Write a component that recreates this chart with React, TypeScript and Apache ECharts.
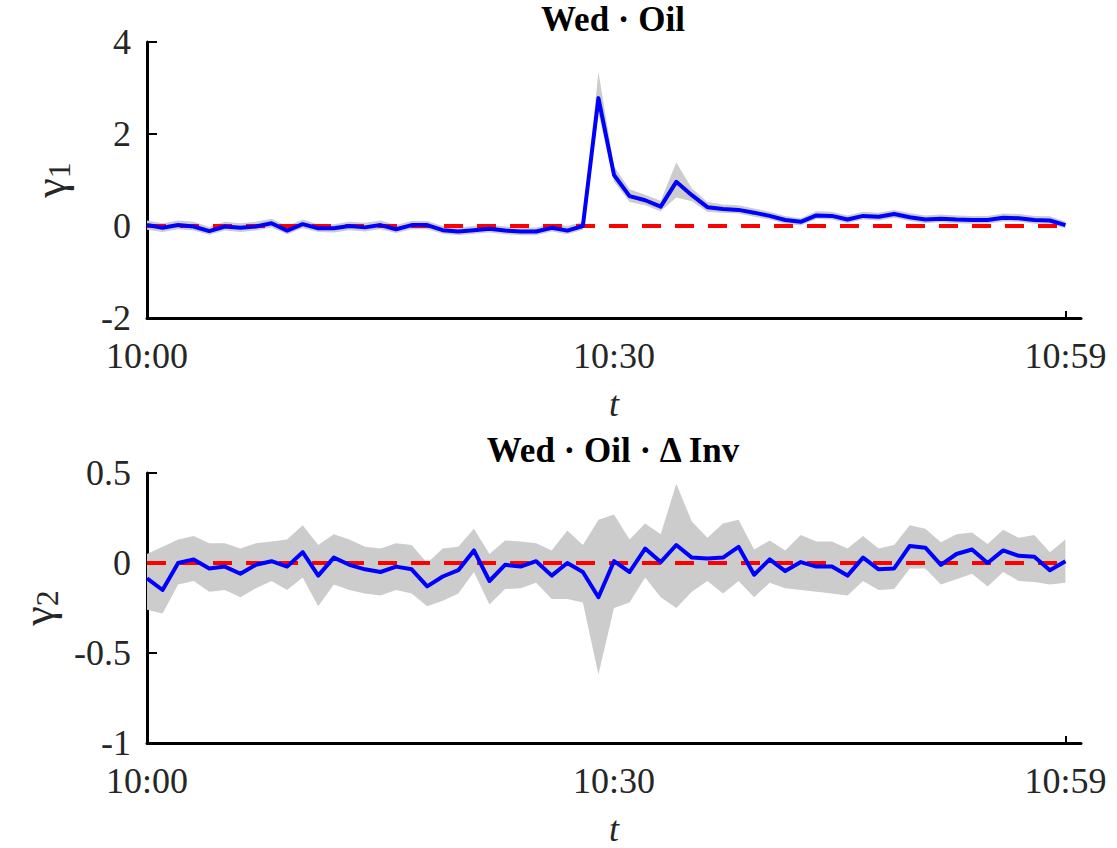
import React, { useEffect, useRef } from "react";
import * as echarts from "echarts";

// minute index 0..59 (10:00 .. 10:59)
const tickValues = [0, 30, 59];
const tickLabels = ["10:00", "10:30", "10:59"];

// gamma_1 (Wed · Oil)
const g1 = [0.02,-0.04,0.02,-0.01,-0.11,-0.01,-0.04,-0.01,0.06,-0.10,0.04,-0.05,-0.05,0.00,-0.03,0.02,-0.07,0.02,0.02,-0.09,
  -0.12,-0.09,-0.06,-0.10,-0.12,-0.12,-0.04,-0.10,0.00,
  2.78,1.11,0.65,0.56,0.42,0.96,0.67,0.41,0.37,0.35,
  0.29,0.22,0.13,0.09,0.23,0.22,0.14,0.22,0.20,0.26,0.19,
  0.14,0.16,0.14,0.13,0.13,0.18,0.17,0.13,0.12,0.02];
const g1Lo = [-0.08,-0.13,-0.07,-0.10,-0.19,-0.10,-0.13,-0.10,-0.03,-0.18,-0.05,-0.13,-0.14,-0.09,-0.12,-0.07,-0.15,-0.07,-0.07,-0.17,
  -0.20,-0.17,-0.14,-0.18,-0.20,-0.20,-0.12,-0.18,-0.08,
  2.45,0.97,0.52,0.45,0.32,0.62,0.54,0.31,0.28,0.27,
  0.20,0.14,0.05,0.01,0.15,0.14,0.06,0.14,0.12,0.18,0.11,
  0.06,0.08,0.06,0.05,0.05,0.10,0.09,0.05,0.04,-0.05];
const g1Hi = [0.12,0.06,0.12,0.09,-0.02,0.09,0.06,0.09,0.16,0.00,0.14,0.04,0.04,0.09,0.07,0.12,0.02,0.11,0.11,0.00,
  -0.03,0.00,0.03,-0.01,-0.03,-0.03,0.05,0.00,0.09,
  3.35,1.30,0.80,0.68,0.55,1.38,0.82,0.52,0.47,0.45,
  0.38,0.31,0.22,0.17,0.32,0.31,0.23,0.31,0.29,0.35,0.28,
  0.23,0.25,0.23,0.22,0.22,0.27,0.26,0.22,0.21,0.10];

// gamma_2 (Wed · Oil · Δ Inv)
const g2 = [-0.086,-0.15,0.00,0.02,-0.03,-0.02,-0.06,-0.01,0.01,-0.02,
  0.06,-0.07,0.03,-0.01,-0.035,-0.05,-0.02,-0.035,-0.13,-0.075,
  -0.04,0.07,-0.10,-0.01,-0.02,0.01,-0.07,0.00,-0.05,-0.19,
  0.01,-0.05,0.08,0.005,0.10,0.03,0.025,0.03,0.09,-0.065,
  0.02,-0.045,0.005,-0.02,-0.02,-0.07,0.03,-0.035,-0.03,0.095,
  0.085,-0.01,0.05,0.075,0.00,0.07,0.04,0.035,-0.04,0.01];
const g2Lo = [-0.26,-0.28,-0.12,-0.10,-0.16,-0.15,-0.19,-0.14,-0.10,-0.15,
  -0.08,-0.24,-0.12,-0.15,-0.17,-0.18,-0.15,-0.17,-0.24,-0.21,
  -0.17,-0.05,-0.23,-0.145,-0.14,-0.11,-0.20,-0.20,-0.22,-0.62,
  -0.25,-0.22,-0.08,-0.19,-0.25,-0.16,-0.10,-0.17,-0.10,-0.19,
  -0.11,-0.14,-0.15,-0.16,-0.17,-0.18,-0.10,-0.15,-0.145,-0.03,
  -0.03,-0.12,-0.09,-0.06,-0.13,-0.05,-0.10,-0.105,-0.12,-0.11];
const g2Hi = [0.05,0.09,0.13,0.15,0.11,0.11,0.08,0.11,0.12,0.13,
  0.21,0.10,0.16,0.13,0.09,0.08,0.11,0.10,0.00,0.08,
  0.09,0.19,0.05,0.125,0.12,0.11,0.07,0.18,0.10,0.24,
  0.27,0.13,0.22,0.16,0.44,0.23,0.14,0.22,0.24,0.075,
  0.125,0.07,0.155,0.12,0.12,0.08,0.15,0.08,0.10,0.21,
  0.19,0.115,0.16,0.17,0.105,0.185,0.14,0.155,0.06,0.13];

const zeroRef = [[0, 0], [59, 0]];

const FONT = "Liberation Serif";
const TXT = "#262626";

function bandSeries(lo: number[], hi: number[], idx: number) {
  return {
    type: "custom", xAxisIndex: idx, yAxisIndex: idx, silent: true, z: 1,
    data: lo.map((v, i) => [i, v, hi[i]]),
    encode: { x: 0, y: [1, 2] },
    renderItem: (params: any, api: any) => {
      if (params.dataIndex !== 0) return null;
      const pts: number[][] = [];
      for (let i = 0; i < hi.length; i++) pts.push(api.coord([i, hi[i]]));
      for (let i = lo.length - 1; i >= 0; i--) pts.push(api.coord([i, lo[i]]));
      return { type: "polygon", shape: { points: pts }, style: { fill: "#cccccc" } };
    },
  };
}

function lineSeries(vals: number[], idx: number) {
  return [
    {
      type: "line", xAxisIndex: idx, yAxisIndex: idx, data: zeroRef, symbol: "none", silent: true,
      lineStyle: { color: "#ff0000", width: 4, type: [19, 14] }, z: 2,
    },
    {
      type: "line", xAxisIndex: idx, yAxisIndex: idx, data: vals.map((v, i) => [i, v]), symbol: "none", silent: true,
      lineStyle: { color: "#0000ff", width: 4, join: "round" }, z: 3,
    },
  ];
}

function xAxis(idx: number) {
  return {
    gridIndex: idx, type: "value", min: 0, max: 60,
    axisLine: { onZero: false, lineStyle: { color: "#000", width: 3 } },
    axisTick: { inside: true, length: 7, customValues: [59], lineStyle: { color: "#000", width: 2 } },
    axisLabel: {
      customValues: tickValues,
      formatter: (v: number) => tickLabels[tickValues.indexOf(v)] ?? "",
      fontSize: 36, lineHeight: 30, fontFamily: FONT, color: TXT, margin: 23,
    },
    splitLine: { show: false },
    name: "t", nameLocation: "middle", nameGap: 68,
    nameTextStyle: { fontSize: 36, fontStyle: "italic", fontFamily: FONT, color: TXT },
  };
}

function yAxis(idx: number, min: number, max: number, interval: number, sub: string) {
  return {
    gridIndex: idx, type: "value", min, max, interval,
    axisLine: { onZero: false, lineStyle: { color: "#000", width: 3 } },
    axisTick: { inside: true, length: 10, lineStyle: { color: "#000", width: 2 } },
    axisLabel: { fontSize: 36, lineHeight: 28, fontFamily: FONT, color: TXT, margin: 16 },
    splitLine: { show: false },
    name: "{g|γ}{s|" + sub + "}", nameLocation: "middle", nameGap: 72, nameRotate: 90,
    nameTextStyle: {
      rich: {
        g: { fontSize: 44, fontFamily: FONT, color: TXT },
        s: { fontSize: 32, fontFamily: FONT, color: TXT, padding: [18, 0, 0, 0] },
      },
    },
  };
}

export default function App() {
  const ref = useRef<HTMLDivElement>(null);
  useEffect(() => {
    if (!ref.current) return;
    const chart = echarts.init(ref.current, null, { renderer: "svg" });
    chart.setOption({
      animation: false,
      backgroundColor: "#ffffff",
      grid: [
        { left: 147, top: 42, width: 934, height: 276 },
        { left: 147, top: 473, width: 934, height: 272 },
      ],
      xAxis: [xAxis(0), xAxis(1)],
      yAxis: [yAxis(0, -2, 4, 2, "1"), yAxis(1, -1, 0.5, 0.5, "2")],
      graphic: [
        {
          type: "text", x: 613, y: 19,
          style: { text: "Wed · Oil", fontSize: 35, fontFamily: FONT, fontWeight: "bold", fill: "#000", align: "center", verticalAlign: "middle" },
        },
        {
          type: "text", x: 613, y: 450,
          style: { text: "Wed · Oil · Δ Inv", fontSize: 35, fontFamily: FONT, fontWeight: "bold", fill: "#000", align: "center", verticalAlign: "middle" },
        },
      ],
      series: [
        bandSeries(g1Lo, g1Hi, 0),
        ...lineSeries(g1, 0),
        bandSeries(g2Lo, g2Hi, 1),
        ...lineSeries(g2, 1),
      ],
    });
    return () => chart.dispose();
  }, []);
  return <div ref={ref} style={{ position: "absolute", left: 0, top: 0, width: 1117, height: 848, background: "#fff" }} />;
}
